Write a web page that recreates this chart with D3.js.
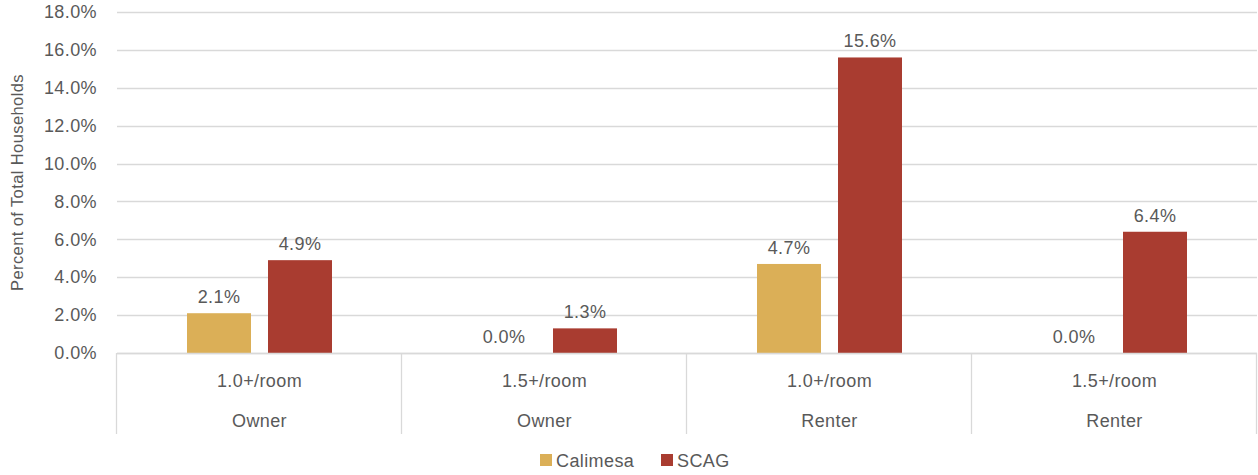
<!DOCTYPE html>
<html>
<head>
<meta charset="utf-8">
<script src="https://cdn.jsdelivr.net/npm/d3@7"></script>
<style>
  body { margin: 0; background: #fff; }
  text { font-family: "Liberation Sans", "DejaVu Sans", sans-serif; fill: #595959; letter-spacing: 0.4px; }
</style>
</head>
<body>
<svg width="1258" height="475"></svg>
<script>
var rooms = ["1.0+/room", "1.5+/room", "1.0+/room", "1.5+/room"],
    tenure = ["Owner", "Owner", "Renter", "Renter"],
    series = ["Calimesa", "SCAG"],
    calimesa = [2.1, 0.0, 4.7, 0.0],
    scag = [4.9, 1.3, 15.6, 6.4],
    yTicks = [0, 2, 4, 6, 8, 10, 12, 14, 16, 18],
    colors = ["#dbaf57", "#a93c30"];

var svg = d3.select("svg"),
    plotLeft = 117, plotRight = 1257, plotTop = 12, plotBottom = 353,
    fs = "18px";

var x = d3.scaleBand().domain(d3.range(rooms.length)).range([plotLeft, plotRight]);
var xs = d3.scaleBand().domain(series).range([70, x.bandwidth() - 70]).paddingInner(0.21);
var y = d3.scaleLinear().domain([0, 18]).range([plotBottom, plotTop]);

// gridlines
svg.append("g")
    .selectAll("line")
    .data(yTicks)
    .enter().append("line")
    .attr("x1", plotLeft).attr("x2", plotRight)
    .attr("y1", d => Math.round(y(d)) + 0.5).attr("y2", d => Math.round(y(d)) + 0.5)
    .attr("stroke", "#d9d9d9").attr("stroke-width", 1.3);

// y axis labels
var yAxis = svg.append("g")
    .attr("transform", "translate(" + (plotLeft - 7) + ",0)")
    .call(d3.axisLeft(y).tickValues(yTicks).tickSize(0).tickPadding(13).tickFormat(d => d.toFixed(1) + "%"));
yAxis.select(".domain").remove();
yAxis.selectAll("text").style("font-size", fs).attr("font-family", null).attr("fill", "#595959");

svg.append("text")
    .attr("transform", "rotate(-90)")
    .attr("x", -(plotTop + plotBottom) / 2)
    .attr("y", 23)
    .attr("text-anchor", "middle")
    .style("font-size", "16.5px")
    .text("Percent of Total Households");

// category table lines
var boundaries = d3.range(rooms.length + 1).map(i => i < rooms.length ? x(i) : plotRight);
svg.append("g")
    .selectAll("line")
    .data(boundaries)
    .enter().append("line")
    .attr("x1", d => Math.round(d) - 0.5).attr("x2", d => Math.round(d) - 0.5)
    .attr("y1", plotBottom).attr("y2", 434)
    .attr("stroke", "#d9d9d9").attr("stroke-width", 1.3);

var cats = svg.append("g");
cats.selectAll(".room")
    .data(rooms)
    .enter().append("text")
    .attr("x", (d, i) => x(i) + x.bandwidth() / 2)
    .attr("y", 387)
    .attr("text-anchor", "middle")
    .style("font-size", fs)
    .text(d => d);
cats.selectAll(".tenure")
    .data(tenure)
    .enter().append("text")
    .attr("x", (d, i) => x(i) + x.bandwidth() / 2)
    .attr("y", 427)
    .attr("text-anchor", "middle")
    .style("font-size", fs)
    .text(d => d);

// bars
var data = [];
rooms.forEach(function (r, i) {
    data.push({ i: i, s: "Calimesa", v: calimesa[i], c: colors[0] });
    data.push({ i: i, s: "SCAG", v: scag[i], c: colors[1] });
});

svg.append("g")
    .selectAll("rect")
    .data(data)
    .enter().append("rect")
    .attr("x", d => x(d.i) + xs(d.s))
    .attr("y", d => y(d.v))
    .attr("width", xs.bandwidth())
    .attr("height", d => plotBottom - y(d.v))
    .attr("fill", d => d.c);

svg.append("g")
    .selectAll("text")
    .data(data)
    .enter().append("text")
    .attr("x", d => x(d.i) + xs(d.s) + xs.bandwidth() / 2)
    .attr("y", d => y(d.v) - 10)
    .attr("text-anchor", "middle")
    .style("font-size", fs)
    .text(d => d.v.toFixed(1) + "%");

// bottom axis line
svg.append("line")
    .attr("x1", plotLeft).attr("x2", plotRight)
    .attr("y1", plotBottom + 0.5).attr("y2", plotBottom + 0.5)
    .attr("stroke", "#d9d9d9").attr("stroke-width", 1.3);

// legend
var legendX = [540, 661];
var legend = svg.append("g");
series.forEach(function (s, i) {
    legend.append("rect")
        .attr("x", legendX[i]).attr("y", 454)
        .attr("width", 12).attr("height", 12)
        .attr("fill", colors[i]);
    legend.append("text")
        .attr("x", legendX[i] + 16).attr("y", 467)
        .style("font-size", fs)
        .text(s);
});
</script>
</body>
</html>
